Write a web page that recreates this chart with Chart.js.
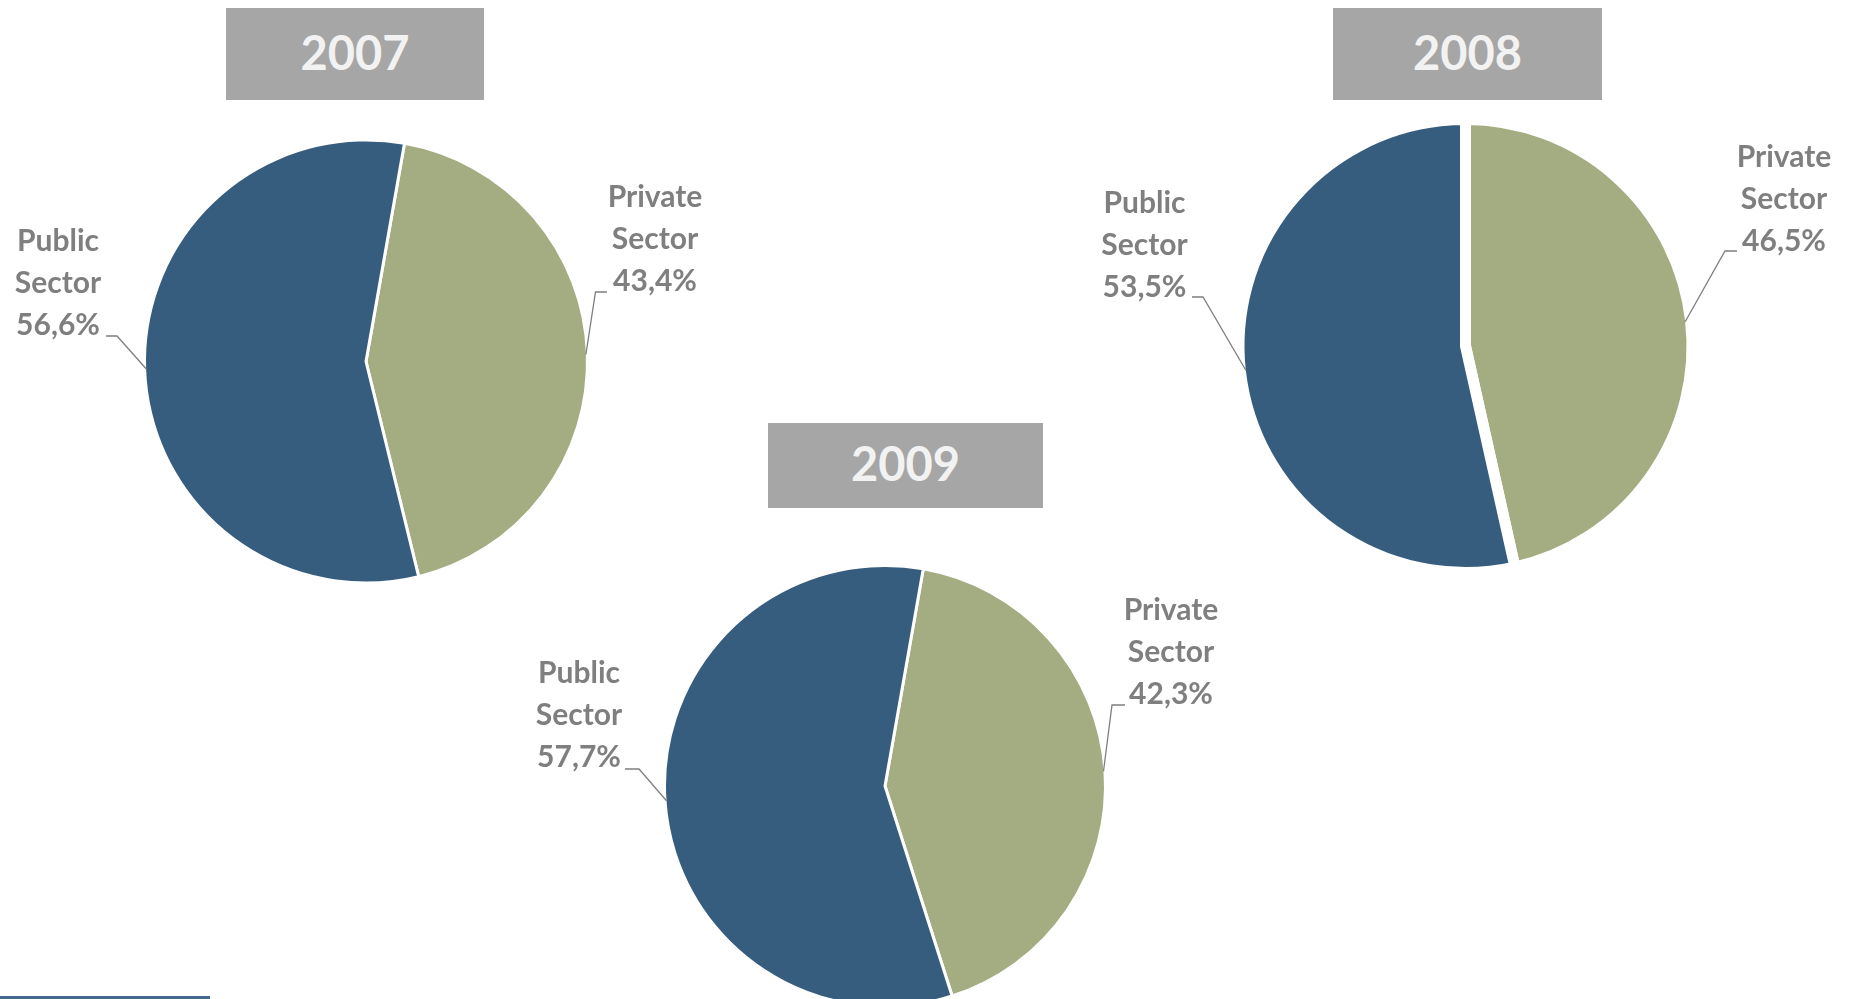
<!DOCTYPE html>
<html>
<head>
<meta charset="utf-8">
<script src="https://cdn.jsdelivr.net/npm/chart.js@4/dist/chart.umd.min.js"></script>
<style>
  html, body { margin: 0; padding: 0; background: #ffffff; }
  body { width: 1852px; height: 999px; position: relative; overflow: hidden; font-family: Lato, "Open Sans", sans-serif; }
  canvas.pie { position: absolute; left: 0; top: 0; }
  .ttl { position: absolute; background: #a6a6a6; color: #f2f2f2; font-weight: 700; font-size: 47px;
         display: flex; align-items: center; justify-content: center; box-sizing: border-box; padding-bottom: 5px; z-index: 5; }
  .bar { position: absolute; left: 0; top: 996px; width: 210px; height: 3px; background: #46698f; }
</style>
</head>
<body>
<div class="ttl" id="t0" style="left:226px;top:8px;width:258px;height:92px;"></div>
<div class="ttl" id="t1" style="left:1333px;top:8px;width:269px;height:92px;"></div>
<div class="ttl" id="t2" style="left:768px;top:423px;width:275px;height:85px;"></div>
<canvas class="pie" id="c0" width="1852" height="999"></canvas>
<canvas class="pie" id="c1" width="1852" height="999"></canvas>
<canvas class="pie" id="c2" width="1852" height="999"></canvas>
<div class="bar"></div>
<script>
// ---- data ----
const years = ['2007', '2008', '2009'];
const sectorWords = [['Private', 'Sector'], ['Public', 'Sector']];
const privateShare = [43.4, 46.5, 42.3];
const publicShare = [56.6, 53.5, 57.7];

// ---- styling / layout (not data) ----
const colors = ['#a4ac81', '#375d7e'];
const W = 1852, H = 999;
const layouts = [
  { cx: 366, cy: 361.5, r: 220, bw: 3, rot: 10,
    labels: [ { tx: 655, ty: 207, sx: 607, sy: 292, ex: 595.5, ey: 292 },
              { tx: 58,  ty: 251, sx: 106, sy: 336, ex: 117,   ey: 336 } ] },
  { cx: 1465.5, cy: 346, r: 221, bw: 11, rot: 0,
    labels: [ { tx: 1784, ty: 166.5, sx: 1737, sy: 251, ex: 1725, ey: 251 },
              { tx: 1144.5, ty: 212.5, sx: 1192, sy: 297, ex: 1203, ey: 297 } ] },
  { cx: 885, cy: 786, r: 219, bw: 3, rot: 10,
    labels: [ { tx: 1171, ty: 619.5, sx: 1125, sy: 705, ex: 1112, ey: 705 },
              { tx: 579,  ty: 683,   sx: 625,  sy: 769, ex: 639,  ey: 769 } ] }
];

const fmt = v => v.toFixed(1).replace('.', ',') + '%';

const labelPlugin = {
  id: 'leaderLabels',
  afterDatasetsDraw(chart) {
    const L = chart.options.plugins.leaderLabels.layout;
    const ds = chart.data.datasets[0];
    const meta = chart.getDatasetMeta(0);
    const ctx = chart.ctx;
    ctx.save();
    meta.data.forEach((arc, i) => {
      const p = arc.getProps(['x', 'y', 'startAngle', 'endAngle', 'outerRadius'], true);
      const mid = (p.startAngle + p.endAngle) / 2;
      const rv = p.outerRadius - L.bw / 2;
      const ax = p.x + Math.cos(mid) * rv;
      const ay = p.y + Math.sin(mid) * rv;
      const lb = L.labels[i];
      ctx.strokeStyle = '#7f7f7f';
      ctx.lineWidth = 1.3;
      ctx.beginPath();
      ctx.moveTo(lb.sx, lb.sy);
      ctx.lineTo(lb.ex, lb.ey);
      ctx.lineTo(ax, ay);
      ctx.stroke();
      const lines = sectorWords[i].concat([fmt(ds.data[i])]);
      ctx.fillStyle = '#7f7f7f';
      ctx.font = 'bold 30px Lato, "Open Sans", sans-serif';
      ctx.textAlign = 'center';
      ctx.textBaseline = 'alphabetic';
      lines.forEach((t, k) => ctx.fillText(t, lb.tx, lb.ty + k * 42));
    });
    ctx.restore();
  }
};

years.forEach((yr, idx) => {
  document.getElementById('t' + idx).textContent = yr;
  const L = layouts[idx];
  const R = L.r + L.bw / 2;
  const pad = {
    left: L.cx * 2 > W ? L.cx * 2 - W : 0,
    right: L.cx * 2 > W ? 0 : W - L.cx * 2,
    top: L.cy * 2 > H ? L.cy * 2 - H : 0,
    bottom: L.cy * 2 > H ? 0 : H - L.cy * 2
  };
  new Chart(document.getElementById('c' + idx), {
    type: 'pie',
    data: {
      labels: sectorWords.map(w => w.join(' ')),
      datasets: [{
        data: [privateShare[idx], publicShare[idx]],
        backgroundColor: colors,
        borderColor: '#ffffff',
        borderWidth: L.bw
      }]
    },
    options: {
      responsive: false,
      animation: false,
      devicePixelRatio: 1,
      rotation: L.rot,
      radius: R,
      layout: { padding: pad },
      plugins: {
        legend: { display: false },
        tooltip: { enabled: false },
        leaderLabels: { layout: L }
      }
    },
    plugins: [labelPlugin]
  });
});
</script>
</body>
</html>
